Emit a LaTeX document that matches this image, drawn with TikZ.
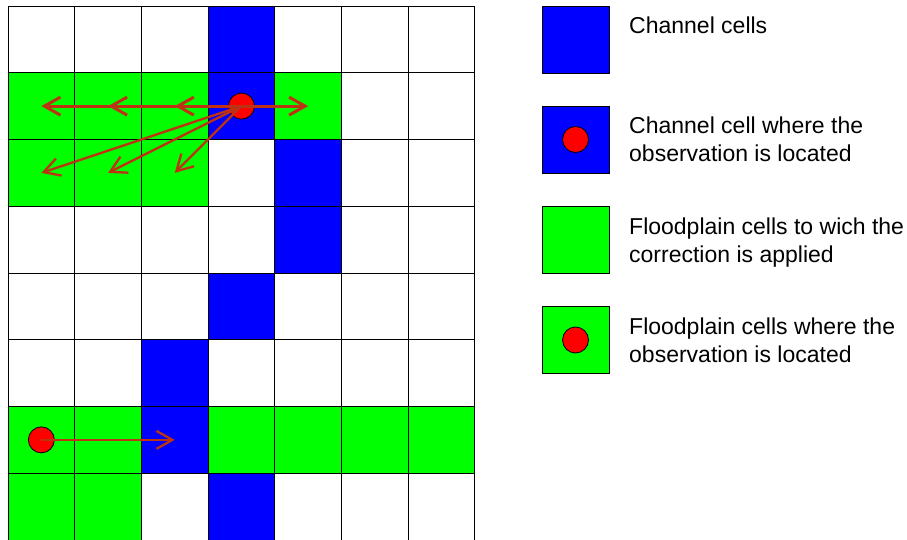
\documentclass[tikz,border=0pt]{standalone}
\usepackage{fontspec}
\setmainfont{Liberation Sans}
\usetikzlibrary{arrows.meta}
\definecolor{chan}{RGB}{0,0,255}
\definecolor{flood}{RGB}{0,255,0}
\definecolor{obs}{RGB}{255,0,0}
\definecolor{arr}{RGB}{190,50,20}
\colorlet{k0}{white}
\colorlet{k1}{chan}
\colorlet{k2}{flood}
\def\cellmap{{0,0,0,1,0,0,0,
2,2,2,1,2,0,0,
2,2,2,0,1,0,0,
0,0,0,0,1,0,0,
0,0,0,1,0,0,0,
0,0,1,0,0,0,0,
2,2,1,2,2,2,2,
2,2,0,1,0,0,0}}
\begin{document}
\begin{tikzpicture}[x=1pt,y=-1pt,
  cell/.style={draw=black, line width=0.9pt, minimum width=66.7pt, minimum height=66.75pt, inner sep=0pt, outer sep=0pt},
  legbox/.style={draw=black, line width=0.8pt, minimum size=67pt, inner sep=0pt},
  dot/.style={circle, draw=black, line width=0.8pt, fill=obs, minimum size=26pt, inner sep=0pt},
  corr/.style={draw=arr, line width=2.3pt, -{Straight Barb[length=16pt,width=18pt]}},
  corrh/.style={corr, line width=3pt},
  legtext/.style={anchor=north west, inner sep=0pt, align=left, font=\fontsize{23}{27.6}\selectfont}
]
\useasboundingbox (0,0) rectangle (907,540);
\foreach \r in {0,...,7}{
  \foreach \c in {0,...,6}{
    \pgfmathtruncatemacro\k{\cellmap[7*\r+\c]}
    \node[cell, fill=k\k] (c\r\c) at ({8+66.7*(\c+0.5)},{6+66.75*(\r+0.5)}) {};
  }
}
% observations
\node[dot] (o1) at (c13.center) {};
\node[dot] (o2) at (c60.center) {};
% corrections
\draw[corrh] (o1.center) -- (c10.center);
\draw[corrh] (o1.center) -- (c11.center);
\draw[corrh] (o1.center) -- (c12.center);
\draw[corrh] (o1.center) -- (c14.center);
\draw[corr] (o1.center) -- (c20.center);
\draw[corr] (o1.center) -- (c21.center);
\draw[corr] (o1.center) -- (c22.center);
\draw[corr] (o2.center) -- (c62.center);
% legend
\node[legbox, fill=chan] (l1) at (575.5,39.5) {};
\node[legbox, fill=chan] (l2) at (575.5,139.5) {};
\node[dot] (ld2) at (l2.center) {};
\node[legbox, fill=flood] (l3) at (575.5,240) {};
\node[legbox, fill=flood] (l4) at (575.5,340) {};
\node[dot] (ld4) at (l4.center) {};
\node[legtext] (t1) at (629,17) {Channel cells};
\node[legtext] (t2) at (629,117) {Channel cell where the\\observation is located};
\node[legtext] (t3) at (629,218) {Floodplain cells to wich the\\correction is applied};
\node[legtext] (t4) at (629,318) {Floodplain cells where the\\observation is located};
\end{tikzpicture}
\end{document}
